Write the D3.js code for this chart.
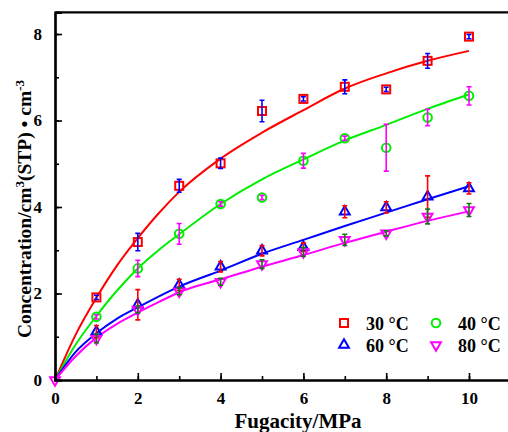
<!DOCTYPE html>
<html>
<head>
<meta charset="utf-8">
<script src="https://cdn.jsdelivr.net/npm/d3@7"></script>
<style>
  body { margin: 0; background: #fff; }
  svg { display: block; }
  text { font-family: "Liberation Serif", "Times New Roman", serif; font-weight: bold; }
</style>
</head>
<body>
<svg width="508" height="432"></svg>
<script>
// measured points, fugacity in MPa
const fugacity = [1, 2, 3, 4, 5, 6, 7, 8, 9, 10]

const conc30 = [1.91, 3.19, 4.49, 5.01, 6.22, 6.5, 6.78, 6.72, 7.38, 7.94]
const err30 = [0.05, 0.2, 0.15, 0.12, 0.25, 0.05, 0.16, 0.05, 0.17, 0.05]
const conc40 = [1.46, 2.58, 3.38, 4.07, 4.22, 5.07, 5.59, 5.37, 6.07, 6.57]
const err40 = [0.05, 0.19, 0.24, 0.05, 0.05, 0.17, 0.05, 0.54, 0.19, 0.21]
const conc60 = [1.12, 1.74, 2.2, 2.62, 2.99, 3.07, 3.89, 3.99, 4.24, 4.43]
const err60 = [0.14, 0.35, 0.13, 0.12, 0.12, 0.1, 0.14, 0.13, 0.48, 0.13]
const conc80 = [0.96, 1.63, 2.05, 2.27, 2.68, 2.96, 3.24, 3.39, 3.78, 3.93]
const err80 = [0.1, 0.08, 0.08, 0.08, 0.1, 0.1, 0.13, 0.06, 0.17, 0.15]

// fitted curves
const fitX = [0, 0.5, 1, 1.5, 2, 2.5, 3, 4, 5, 6, 7, 8, 9, 10]
const fit30 = [0, 1.05, 1.9, 2.65, 3.28, 3.85, 4.35, 5.12, 5.72, 6.24, 6.74, 7.09, 7.38, 7.61]
const fit40 = [0, 0.82, 1.48, 2.07, 2.58, 3.0, 3.37, 4.07, 4.64, 5.1, 5.54, 5.9, 6.27, 6.6]
const fit60 = [0, 0.65, 1.08, 1.42, 1.68, 1.93, 2.16, 2.53, 2.92, 3.24, 3.56, 3.87, 4.18, 4.48]
const fit80 = [0, 0.55, 0.98, 1.3, 1.56, 1.8, 2.03, 2.33, 2.62, 2.89, 3.17, 3.43, 3.68, 3.9]

const xTicks = [0, 2, 4, 6, 8, 10]
const yTicks = [0, 2, 4, 6, 8]
const labels = ['30 °C', '40 °C', '60 °C', '80 °C']

const series = [
  { name: labels[0], y: conc30, err: err30, fit: fit30, color: '#ff0000', errColor: '#0000ff', shape: 'square' },
  { name: labels[1], y: conc40, err: err40, fit: fit40, color: '#00ee00', errColor: '#ff00ff', shape: 'circle' },
  { name: labels[2], y: conc60, err: err60, fit: fit60, color: '#0000ff', errColor: '#ff0000', shape: 'up' },
  { name: labels[3], y: conc80, err: err80, fit: fit80, color: '#ff00ff', errColor: '#117a11', shape: 'down' },
]

const FONT = '"Liberation Serif", "Times New Roman", serif'

const svg = d3.select('svg')

const x = d3.scaleLinear().domain([0, 11]).range([55, 510.4])
const y = d3.scaleLinear().domain([0, 8.5]).range([380, 12.4])

const marker = (g, shape, cx, cy, color) => {
  let el
  if (shape === 'circle') {
    el = g.append('circle').attr('cx', cx).attr('cy', cy).attr('r', 4.3)
  } else if (shape === 'square') {
    el = g.append('rect').attr('x', cx - 4).attr('y', cy - 4).attr('width', 8).attr('height', 8)
  } else {
    const rot = shape === 'down' ? 180 : 0
    el = g.append('path')
      .attr('d', d3.symbol().type(d3.symbolTriangle).size(42)())
      .attr('transform', `translate(${cx},${cy}) rotate(${rot})`)
  }
  el.attr('fill', 'none').attr('stroke', color).attr('stroke-width', 2)
}

// fitted lines
const line = d3.line()
  .x((d) => x(d[0]))
  .y((d) => y(d[1]))
  .curve(d3.curveMonotoneX)

series.forEach((s) => {
  svg.append('path')
    .attr('d', line(fitX.map((v, i) => [v, s.fit[i]])))
    .attr('fill', 'none')
    .attr('stroke', s.color)
    .attr('stroke-width', 2)
})

// points and error bars
series.forEach((s) => {
  const g = svg.append('g')
  fugacity.forEach((f, i) => {
    marker(g, s.shape, x(f), y(s.y[i]), s.color)
  })
  fugacity.forEach((f, i) => {
    const cx = x(f)
    const top = y(s.y[i] + s.err[i])
    const bot = y(s.y[i] - s.err[i])
    g.append('path')
      .attr('d', `M${cx},${top}V${bot}M${cx - 2.5},${top}H${cx + 2.5}M${cx - 2.5},${bot}H${cx + 2.5}`)
      .attr('fill', 'none')
      .attr('stroke', s.errColor)
      .attr('stroke-width', 1.6)
  })
})
marker(svg, 'down', x(0), y(0), '#ff00ff')

// axes
const xAxis = svg.append('g').attr('transform', `translate(0,${y(0)})`)
xAxis.call(d3.axisBottom(x).tickValues(d3.range(0, 11)).tickSize(-4).tickFormat(''))
xAxis.append('g').call(d3.axisBottom(x).tickValues(xTicks).tickSize(-7).tickPadding(12))
xAxis.selectAll('.domain').attr('stroke-width', 2.2)

const yAxis = svg.append('g').attr('transform', `translate(${x(0)},0)`)
yAxis.call(d3.axisLeft(y).tickValues(d3.range(0, 9)).tickSize(-4).tickFormat(''))
yAxis.append('g').call(d3.axisLeft(y).tickValues(yTicks).tickSize(-7).tickPadding(13))
yAxis.selectAll('.domain').attr('stroke-width', 2.2)

svg.selectAll('g').attr('font-family', null)
svg.selectAll('.tick line').attr('stroke-width', 1.6)
svg.selectAll('.tick text')
  .style('font-family', FONT)
  .style('font-weight', 'bold')
  .attr('font-size', 17)
  .attr('fill', '#000')

svg.append('line')
  .attr('x1', x(0)).attr('x2', 508)
  .attr('y1', y(8.5)).attr('y2', y(8.5))
  .attr('stroke', '#000').attr('stroke-width', 2.2)

// axis titles
svg.append('text')
  .attr('x', 298).attr('y', 428)
  .attr('text-anchor', 'middle')
  .style('font-family', FONT)
  .attr('font-size', 21)
  .text('Fugacity/MPa')

const yl = svg.append('text')
  .attr('transform', 'translate(31,209) rotate(-90)')
  .attr('text-anchor', 'middle')
  .style('font-family', FONT)
  .attr('font-size', 19.5)
yl.append('tspan').text('Concentration/cm')
yl.append('tspan').attr('dy', -7).attr('font-size', 13).text('3')
yl.append('tspan').attr('dy', 7).text('(STP) • cm')
yl.append('tspan').attr('dy', -7).attr('font-size', 13).text('-3')

// legend
const legendPos = [[344, 323], [436, 323], [344, 345], [436, 345]]
series.forEach((s, i) => {
  const [lx, ly] = legendPos[i]
  marker(svg, s.shape, lx, ly, s.color)
  svg.append('text')
    .attr('x', lx + 22).attr('y', ly + 6.5)
    .style('font-family', FONT)
    .attr('font-size', 18)
    .text(s.name)
})
</script>
</body>
</html>
